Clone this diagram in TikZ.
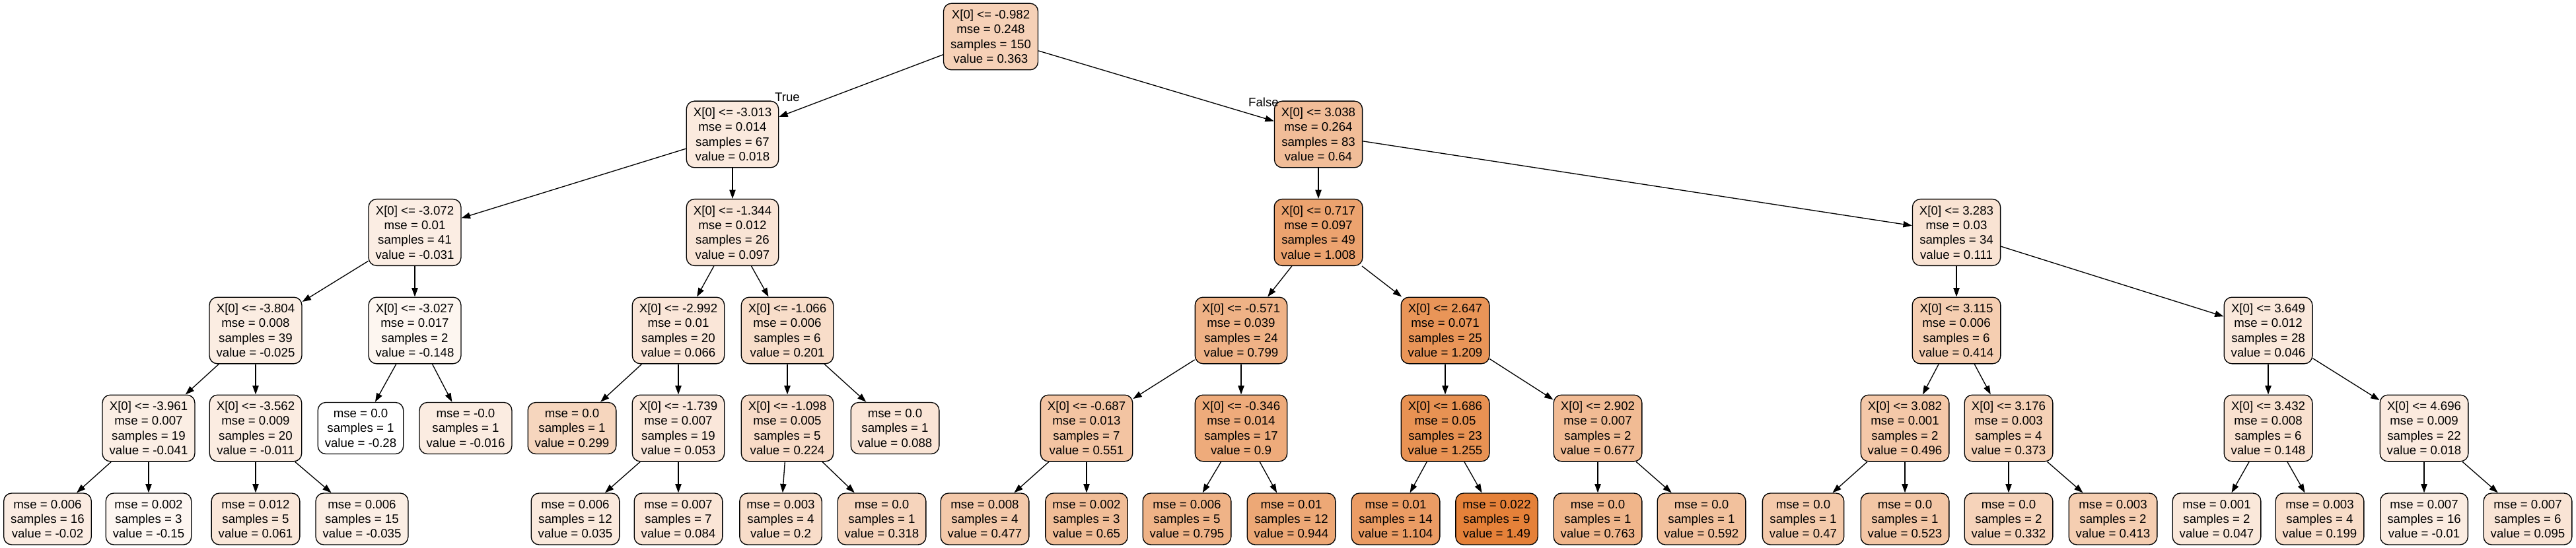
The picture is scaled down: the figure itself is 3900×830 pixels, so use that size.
\documentclass[tikz,border=0pt]{standalone}
\usepackage{fontspec}
\setmainfont{Liberation Sans}
\usetikzlibrary{arrows.meta}
\definecolor{dt}{RGB}{229,129,57}
\tikzset{
  box/.style={draw=black, line width=1pt, rounded corners=9pt, font=\fontsize{14}{16.8}\selectfont, align=center, inner xsep=7.9pt, inner ysep=0pt, text=black},
  split/.style={box, minimum height=75.5pt},
  leaf/.style={box, minimum height=58.5pt},
  edge/.style={draw=black, line width=1pt, -{Triangle[length=10pt,width=7pt]}},
  elabel/.style={font=\fontsize{14}{16.8}\selectfont, inner sep=0pt}
}
\begin{document}
\begin{tikzpicture}[x=0.75pt,y=-0.75pt]
\useasboundingbox (0,0) rectangle (3900,830);
% level 0
\node[split, fill=dt!36.3] (n0) at (1500,55.5) {X[0] <= -0.982\\mse = 0.248\\samples = 150\\value = 0.363};
% level 1
\node[split, fill=dt!16.8] (n1) at (1109,203.5) {X[0] <= -3.013\\mse = 0.014\\samples = 67\\value = 0.018};
\node[split, fill=dt!52.0] (n24) at (1996,203.5) {X[0] <= 3.038\\mse = 0.264\\samples = 83\\value = 0.64};
% level 2
\node[split, fill=dt!14.1] (n2) at (628,352) {X[0] <= -3.072\\mse = 0.01\\samples = 41\\value = -0.031};
\node[split, fill=dt!21.3] (n13) at (1109,352) {X[0] <= -1.344\\mse = 0.012\\samples = 26\\value = 0.097};
\node[split, fill=dt!72.8] (n25) at (1996,352) {X[0] <= 0.717\\mse = 0.097\\samples = 49\\value = 1.008};
\node[split, fill=dt!22.1] (n40) at (2962,352) {X[0] <= 3.283\\mse = 0.03\\samples = 34\\value = 0.111};
% level 3
\node[split, fill=dt!14.4] (n3) at (387,500.5) {X[0] <= -3.804\\mse = 0.008\\samples = 39\\value = -0.025};
\node[split, fill=dt!7.5] (n10) at (628,500.5) {X[0] <= -3.027\\mse = 0.017\\samples = 2\\value = -0.148};
\node[split, fill=dt!19.5] (n14) at (1027,500.5) {X[0] <= -2.992\\mse = 0.01\\samples = 20\\value = 0.066};
\node[split, fill=dt!27.2] (n19) at (1192,500.5) {X[0] <= -1.066\\mse = 0.006\\samples = 6\\value = 0.201};
\node[split, fill=dt!61.0] (n26) at (1879,500.5) {X[0] <= -0.571\\mse = 0.039\\samples = 24\\value = 0.799};
\node[split, fill=dt!84.1] (n33) at (2188,500.5) {X[0] <= 2.647\\mse = 0.071\\samples = 25\\value = 1.209};
\node[split, fill=dt!39.2] (n41) at (2962,500.5) {X[0] <= 3.115\\mse = 0.006\\samples = 6\\value = 0.414};
\node[split, fill=dt!18.4] (n48) at (3434,500.5) {X[0] <= 3.649\\mse = 0.012\\samples = 28\\value = 0.046};
% level 4
\node[split, fill=dt!13.5] (n4) at (225,648.5) {X[0] <= -3.961\\mse = 0.007\\samples = 19\\value = -0.041};
\node[split, fill=dt!15.2] (n7) at (387,648.5) {X[0] <= -3.562\\mse = 0.009\\samples = 20\\value = -0.011};
\node[leaf, fill=white] (n11) at (546,648.5) {mse = 0.0\\samples = 1\\value = -0.28};
\node[leaf, fill=dt!14.9] (n12) at (705,648.5) {mse = -0.0\\samples = 1\\value = -0.016};
\node[leaf, fill=dt!32.7] (n15) at (866,648.5) {mse = 0.0\\samples = 1\\value = 0.299};
\node[split, fill=dt!18.8] (n16) at (1027,648.5) {X[0] <= -1.739\\mse = 0.007\\samples = 19\\value = 0.053};
\node[split, fill=dt!28.5] (n20) at (1192,648.5) {X[0] <= -1.098\\mse = 0.005\\samples = 5\\value = 0.224};
\node[leaf, fill=dt!20.8] (n23) at (1355,648.5) {mse = 0.0\\samples = 1\\value = 0.088};
\node[split, fill=dt!46.9] (n27) at (1645,648.5) {X[0] <= -0.687\\mse = 0.013\\samples = 7\\value = 0.551};
\node[split, fill=dt!66.7] (n30) at (1879,648.5) {X[0] <= -0.346\\mse = 0.014\\samples = 17\\value = 0.9};
\node[split, fill=dt!86.7] (n34) at (2188,648.5) {X[0] <= 1.686\\mse = 0.05\\samples = 23\\value = 1.255};
\node[split, fill=dt!54.1] (n37) at (2419,648.5) {X[0] <= 2.902\\mse = 0.007\\samples = 2\\value = 0.677};
\node[split, fill=dt!43.8] (n42) at (2884,648.5) {X[0] <= 3.082\\mse = 0.001\\samples = 2\\value = 0.496};
\node[split, fill=dt!36.9] (n45) at (3041,648.5) {X[0] <= 3.176\\mse = 0.003\\samples = 4\\value = 0.373};
\node[split, fill=dt!24.2] (n49) at (3434,648.5) {X[0] <= 3.432\\mse = 0.008\\samples = 6\\value = 0.148};
\node[split, fill=dt!16.8] (n52) at (3670,648.5) {X[0] <= 4.696\\mse = 0.009\\samples = 22\\value = 0.018};
% level 5
\node[leaf, fill=dt!14.7] (n5) at (72,786) {mse = 0.006\\samples = 16\\value = -0.02};
\node[leaf, fill=dt!7.3] (n6) at (225,786) {mse = 0.002\\samples = 3\\value = -0.15};
\node[leaf, fill=dt!19.3] (n8) at (387,786) {mse = 0.012\\samples = 5\\value = 0.061};
\node[leaf, fill=dt!13.8] (n9) at (548,786) {mse = 0.006\\samples = 15\\value = -0.035};
\node[leaf, fill=dt!17.8] (n17) at (871,786) {mse = 0.006\\samples = 12\\value = 0.035};
\node[leaf, fill=dt!20.6] (n18) at (1027,786) {mse = 0.007\\samples = 7\\value = 0.084};
\node[leaf, fill=dt!27.1] (n21) at (1182,786) {mse = 0.003\\samples = 4\\value = 0.2};
\node[leaf, fill=dt!33.8] (n22) at (1335,786) {mse = 0.0\\samples = 1\\value = 0.318};
\node[leaf, fill=dt!42.8] (n28) at (1491,786) {mse = 0.008\\samples = 4\\value = 0.477};
\node[leaf, fill=dt!52.5] (n29) at (1645,786) {mse = 0.002\\samples = 3\\value = 0.65};
\node[leaf, fill=dt!60.7] (n31) at (1797,786) {mse = 0.006\\samples = 5\\value = 0.795};
\node[leaf, fill=dt!69.2] (n32) at (1955,786) {mse = 0.01\\samples = 12\\value = 0.944};
\node[leaf, fill=dt!78.2] (n35) at (2113,786) {mse = 0.01\\samples = 14\\value = 1.104};
\node[leaf, fill=dt] (n36) at (2266,786) {mse = 0.022\\samples = 9\\value = 1.49};
\node[leaf, fill=dt!58.9] (n38) at (2419,786) {mse = 0.0\\samples = 1\\value = 0.763};
\node[leaf, fill=dt!49.3] (n39) at (2576,786) {mse = 0.0\\samples = 1\\value = 0.592};
\node[leaf, fill=dt!42.4] (n43) at (2730,786) {mse = 0.0\\samples = 1\\value = 0.47};
\node[leaf, fill=dt!45.4] (n44) at (2884,786) {mse = 0.0\\samples = 1\\value = 0.523};
\node[leaf, fill=dt!34.6] (n46) at (3041,786) {mse = 0.0\\samples = 2\\value = 0.332};
\node[leaf, fill=dt!39.2] (n47) at (3199,786) {mse = 0.003\\samples = 2\\value = 0.413};
\node[leaf, fill=dt!18.5] (n50) at (3356,786) {mse = 0.001\\samples = 2\\value = 0.047};
\node[leaf, fill=dt!27.1] (n51) at (3512,786) {mse = 0.003\\samples = 4\\value = 0.199};
\node[leaf, fill=dt!15.3] (n53) at (3670,786) {mse = 0.007\\samples = 16\\value = -0.01};
\node[leaf, fill=dt!21.2] (n54) at (3827,786) {mse = 0.007\\samples = 6\\value = 0.095};
% edges
\draw[edge] (n0) -- (n1);
\draw[edge] (n0) -- (n24);
\draw[edge] (n1) -- (n2);
\draw[edge] (n1) -- (n13);
\draw[edge] (n2) -- (n3);
\draw[edge] (n2) -- (n10);
\draw[edge] (n3) -- (n4);
\draw[edge] (n3) -- (n7);
\draw[edge] (n4) -- (n5);
\draw[edge] (n4) -- (n6);
\draw[edge] (n7) -- (n8);
\draw[edge] (n7) -- (n9);
\draw[edge] (n10) -- (n11);
\draw[edge] (n10) -- (n12);
\draw[edge] (n13) -- (n14);
\draw[edge] (n13) -- (n19);
\draw[edge] (n14) -- (n15);
\draw[edge] (n14) -- (n16);
\draw[edge] (n16) -- (n17);
\draw[edge] (n16) -- (n18);
\draw[edge] (n19) -- (n20);
\draw[edge] (n19) -- (n23);
\draw[edge] (n20) -- (n21);
\draw[edge] (n20) -- (n22);
\draw[edge] (n24) -- (n25);
\draw[edge] (n24) -- (n40);
\draw[edge] (n25) -- (n26);
\draw[edge] (n25) -- (n33);
\draw[edge] (n26) -- (n27);
\draw[edge] (n26) -- (n30);
\draw[edge] (n27) -- (n28);
\draw[edge] (n27) -- (n29);
\draw[edge] (n30) -- (n31);
\draw[edge] (n30) -- (n32);
\draw[edge] (n33) -- (n34);
\draw[edge] (n33) -- (n37);
\draw[edge] (n34) -- (n35);
\draw[edge] (n34) -- (n36);
\draw[edge] (n37) -- (n38);
\draw[edge] (n37) -- (n39);
\draw[edge] (n40) -- (n41);
\draw[edge] (n40) -- (n48);
\draw[edge] (n41) -- (n42);
\draw[edge] (n41) -- (n45);
\draw[edge] (n42) -- (n43);
\draw[edge] (n42) -- (n44);
\draw[edge] (n45) -- (n46);
\draw[edge] (n45) -- (n47);
\draw[edge] (n48) -- (n49);
\draw[edge] (n48) -- (n52);
\draw[edge] (n49) -- (n50);
\draw[edge] (n49) -- (n51);
\draw[edge] (n52) -- (n53);
\draw[edge] (n52) -- (n54);
% edge labels
\node[elabel] (ltrue) at (1192,147) {True};
\node[elabel] (lfalse) at (1913,155) {False};
\end{tikzpicture}
\end{document}
